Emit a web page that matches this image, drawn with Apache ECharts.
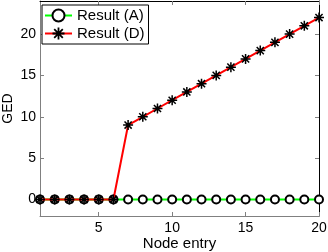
<!DOCTYPE html>
<html><head><meta charset="utf-8">
<script src="https://cdn.jsdelivr.net/npm/echarts@6/dist/echarts.min.js"></script>
<style>html,body{margin:0;padding:0;background:#fff}#c{width:328px;height:252px}</style>
</head><body><div id="c"></div>
<script>
const nodeEntry = [1,2,3,4,5,6,7,8,9,10,11,12,13,14,15,16,17,18,19,20];
const resultA = [0,0,0,0,0,0,0,0,0,0,0,0,0,0,0,0,0,0,0,0];
const resultD = [0,0,0,0,0,0,9,10,11,12,13,14,15,16,17,18,19,20,21,22];
const xTicks = [5,10,15,20];
const yTicks = [0,5,10,15,20];

const star = 'path://M0 8.5L20 8.5L20 11.5L0 11.5Z M8.5 0L11.5 0L11.5 20L8.5 20Z M1.8 3.9L3.9 1.8L18.2 16.1L16.1 18.2Z M16.1 1.8L18.2 3.9L3.9 18.2L1.8 16.1Z';
const font = 'Liberation Sans';
const chart = echarts.init(document.getElementById('c'), null, {renderer:'canvas'});
const axBase = {
  type:'value', axisLine:{show:true, onZero:false, lineStyle:{color:'#000', width:1}},
  splitLine:{show:false}, axisTick:{inside:true, length:4, lineStyle:{color:'#000'}}
};
chart.setOption({
  animation:false,
  grid:{left:40, right:9, top:1, bottom:36, containLabel:false, outerBoundsMode:'none'},
  legend:{
    left:42, top:5, orient:'vertical', itemGap:3, itemWidth:27, itemHeight:15,
    padding:[3,4,3,2], borderColor:'#000', borderWidth:1, backgroundColor:'#fff',
    textStyle:{fontFamily:font, fontSize:15, color:'#000'},
    data:[{name:'Result (A)'},{name:'Result (D)'}]
  },
  xAxis:[
    Object.assign({}, axBase, {min:1, max:20, position:'bottom',
      axisLine:{show:true, onZero:false, lineStyle:{color:'#808080'}},
      name:'Node entry', nameLocation:'middle', nameGap:20, nameMoveOverlap:false,
      nameTextStyle:{fontFamily:font, fontSize:15, color:'#000'},
      axisTick:{inside:true, length:4, customValues:xTicks, lineStyle:{color:'#808080'}},
      axisLabel:{customValues:xTicks, fontFamily:font, fontSize:14, color:'#000', margin:5}}),
    Object.assign({}, axBase, {min:1, max:20, position:'top',
      axisTick:{inside:true, length:4, customValues:xTicks, lineStyle:{color:'#808080'}},
      axisLabel:{show:false}})
  ],
  yAxis:[
    Object.assign({}, axBase, {min:-2, max:24, position:'left',
      axisLine:{show:true, onZero:false, lineStyle:{color:'#808080'}},
      name:'GED', nameLocation:'middle', nameGap:25, nameMoveOverlap:false,
      nameTextStyle:{fontFamily:font, fontSize:14, color:'#000'},
      axisTick:{inside:true, length:4, customValues:yTicks, lineStyle:{color:'#808080'}},
      axisLabel:{customValues:yTicks, fontFamily:font, fontSize:14, color:'#000', margin:4}}),
    Object.assign({}, axBase, {min:-2, max:24, position:'right',
      axisTick:{inside:true, length:4, customValues:yTicks, lineStyle:{color:'#808080'}},
      axisLabel:{show:false}})
  ],
  series:[
    {name:'Result (A)', type:'line', data:nodeEntry.map((x,i)=>[x,resultA[i]]),
     lineStyle:{color:'#00ff00', width:2}, symbol:'circle', symbolSize:8,
     itemStyle:{color:'#fff', borderColor:'#000', borderWidth:2}, z:2},
    {name:'Result (D)', type:'line', data:nodeEntry.map((x,i)=>[x,resultD[i]]),
     lineStyle:{color:'#ff0000', width:2}, symbol:star, symbolSize:10,
     itemStyle:{color:'#000', borderWidth:0}, z:3}
  ]
});
</script></body></html>
